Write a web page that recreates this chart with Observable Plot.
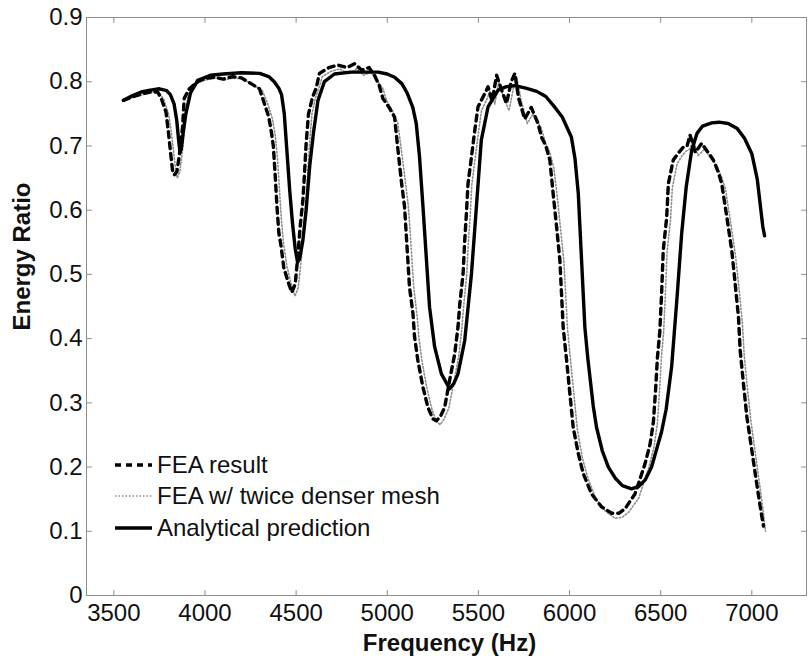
<!DOCTYPE html>
<html><head><meta charset="utf-8">
<script src="https://cdn.jsdelivr.net/npm/d3@7"></script>
<script src="https://cdn.jsdelivr.net/npm/@observablehq/plot@0.6"></script>
<style>
body{margin:0;background:#fff;}
#wrap{position:relative;width:812px;height:663px;font-family:"Liberation Sans",Arial,sans-serif;}
#legend{position:absolute;left:113px;top:449px;}
.row{display:flex;align-items:center;height:31.5px;font-size:24px;color:#111;white-space:nowrap;}
.row svg{width:42px;height:10px;margin-right:2px;flex:none;}
</style></head><body><div id="wrap"><div id="legend"></div></div>
<script>
// ---- tick values ----
const xTicks = [3500, 4000, 4500, 5000, 5500, 6000, 6500, 7000];
const yTicks = [0, 0.1, 0.2, 0.3, 0.4, 0.5, 0.6, 0.7, 0.8, 0.9];

// ---- series names ----
const seriesNames = ["FEA result", "FEA w/ twice denser mesh", "Analytical prediction"];

// ---- Analytical prediction ----
const analyticalHz = [3553,3600,3650,3700,3750,3790,3810,3830,3845,3855,3863,3870,3880,3895,3920,3960,4030,4100,4200,4300,4350,4380,4405,4420,4435,4450,4465,4480,4495,4508,4520,4537,4555,4575,4595,4620,4655,4710,4800,4900,4950,5000,5040,5080,5110,5140,5159,5177,5196,5214,5232,5260,5297,5342,5365,5388,5425,5462,5489,5516,5553,5608,5650,5700,5760,5820,5870,5920,5960,6010,6030,6048,6066,6084,6100,6112,6130,6148,6180,6213,6250,6290,6340,6380,6415,6450,6480,6505,6530,6560,6590,6615,6640,6670,6700,6730,6780,6820,6870,6920,6960,7000,7030,7060,7070];
const analyticalRatio = [0.771,0.778,0.784,0.787,0.789,0.786,0.78,0.766,0.74,0.71,0.69,0.695,0.72,0.75,0.782,0.802,0.81,0.812,0.814,0.813,0.808,0.80,0.79,0.78,0.75,0.69,0.63,0.58,0.54,0.519,0.525,0.553,0.60,0.67,0.72,0.771,0.80,0.812,0.815,0.815,0.815,0.812,0.807,0.797,0.782,0.76,0.735,0.683,0.605,0.527,0.449,0.387,0.345,0.322,0.33,0.345,0.397,0.501,0.605,0.709,0.761,0.787,0.792,0.794,0.79,0.785,0.777,0.76,0.745,0.714,0.68,0.626,0.522,0.418,0.37,0.34,0.295,0.262,0.225,0.20,0.183,0.171,0.166,0.17,0.18,0.20,0.23,0.255,0.29,0.356,0.465,0.563,0.636,0.693,0.72,0.731,0.736,0.737,0.735,0.727,0.712,0.688,0.648,0.575,0.56];

// ---- FEA result ----
const feaHz = [3553,3600,3650,3700,3740,3760,3786,3800,3813,3822,3832,3846,3859,3877,3886,3914,3960,4000,4050,4100,4150,4200,4253,4299,4326,4350,4365,4375,4385,4395,4405,4418,4432,4454,4476,4495,4509,4522,4537,4546,4555,4568,4590,4610,4628,4680,4729,4780,4820,4860,4900,4930,4955,4976,5010,5040,5059,5077,5095,5104,5113,5122,5141,5150,5168,5196,5223,5250,5269,5290,5315,5342,5370,5388,5398,5416,5425,5434,5443,5462,5480,5498,5525,5553,5575,5600,5630,5654,5680,5700,5720,5754,5790,5827,5846,5870,5892,5910,5929,5947,5956,5965,5984,6002,6020,6048,6075,6121,6176,6231,6270,6304,6359,6414,6442,6460,6472,6482,6495,6505,6514,6533,6542,6569,6600,6624,6645,6661,6690,6725,6760,6789,6815,6835,6863,6890,6909,6927,6936,6954,6973,7000,7027,7045,7064];
const feaRatio = [0.771,0.776,0.781,0.784,0.784,0.774,0.753,0.72,0.685,0.662,0.655,0.66,0.685,0.729,0.774,0.789,0.80,0.805,0.807,0.804,0.808,0.806,0.797,0.789,0.766,0.745,0.72,0.70,0.655,0.605,0.565,0.543,0.511,0.49,0.472,0.485,0.527,0.574,0.615,0.657,0.704,0.75,0.776,0.79,0.813,0.822,0.826,0.822,0.828,0.818,0.822,0.81,0.795,0.774,0.76,0.745,0.693,0.646,0.605,0.563,0.522,0.48,0.439,0.402,0.366,0.324,0.293,0.275,0.272,0.278,0.293,0.335,0.376,0.418,0.454,0.501,0.553,0.594,0.641,0.683,0.724,0.761,0.776,0.792,0.77,0.81,0.785,0.766,0.80,0.813,0.775,0.742,0.76,0.735,0.714,0.70,0.678,0.626,0.574,0.522,0.47,0.418,0.366,0.314,0.262,0.221,0.19,0.158,0.138,0.128,0.128,0.135,0.158,0.205,0.236,0.27,0.32,0.37,0.41,0.47,0.537,0.589,0.641,0.678,0.69,0.698,0.70,0.717,0.69,0.704,0.69,0.678,0.66,0.641,0.589,0.537,0.485,0.433,0.382,0.33,0.278,0.226,0.174,0.14,0.108];

// ---- FEA w/ twice denser mesh ----
const denseHz = [3553,3600,3650,3700,3748,3775,3800,3816,3828,3838,3848,3862,3875,3892,3905,3930,3970,4010,4060,4110,4160,4210,4265,4315,4345,4370,4386,4398,4408,4418,4430,4448,4470,4494,4512,4527,4540,4555,4564,4574,4587,4606,4625,4644,4690,4740,4790,4830,4870,4910,4948,4975,4998,5028,5058,5079,5099,5116,5126,5136,5146,5164,5174,5192,5218,5245,5268,5290,5312,5338,5365,5392,5409,5419,5436,5445,5455,5464,5482,5500,5517,5542,5565,5590,5612,5640,5668,5692,5712,5735,5768,5800,5845,5868,5892,5914,5933,5951,5969,5979,5989,6007,6025,6043,6070,6098,6142,6195,6250,6290,6325,6380,6436,6464,6482,6494,6504,6516,6526,6535,6554,6564,6590,6618,6640,6660,6678,6705,6740,6778,6810,6836,6856,6884,6911,6930,6948,6958,6976,6995,7019,7044,7060,7075];
const denseRatio = [0.771,0.775,0.779,0.783,0.784,0.772,0.75,0.72,0.69,0.665,0.65,0.66,0.69,0.735,0.775,0.79,0.80,0.803,0.806,0.803,0.806,0.804,0.795,0.786,0.765,0.742,0.715,0.68,0.635,0.59,0.55,0.515,0.488,0.466,0.48,0.52,0.57,0.615,0.66,0.705,0.75,0.775,0.79,0.808,0.816,0.82,0.812,0.82,0.81,0.815,0.80,0.79,0.77,0.755,0.735,0.69,0.645,0.605,0.565,0.52,0.478,0.435,0.40,0.362,0.322,0.29,0.272,0.266,0.275,0.292,0.332,0.372,0.415,0.45,0.50,0.55,0.592,0.64,0.68,0.72,0.755,0.77,0.785,0.765,0.80,0.775,0.755,0.79,0.805,0.77,0.735,0.75,0.728,0.705,0.69,0.665,0.62,0.57,0.52,0.468,0.415,0.362,0.31,0.258,0.215,0.185,0.152,0.132,0.12,0.122,0.13,0.152,0.20,0.232,0.268,0.32,0.37,0.41,0.47,0.535,0.585,0.635,0.672,0.685,0.692,0.695,0.71,0.685,0.695,0.68,0.668,0.65,0.632,0.58,0.528,0.478,0.425,0.375,0.322,0.272,0.222,0.17,0.137,0.10];

// ---- build tables ----
const toRows = (xs, ys) => xs.map((x, i) => ({x, y: ys[i]}));
const analytical = toRows(analyticalHz, analyticalRatio);
const fea = toRows(feaHz, feaRatio);
const dense = toRows(denseHz, denseRatio);

const styles = [
  {stroke: "#000", strokeWidth: 3.4, dash: "6,5"},
  {stroke: "#8f8f8f", strokeWidth: 1.6, dash: "1.5,2"},
  {stroke: "#000", strokeWidth: 3.4, dash: null}
];

const font = '"Liberation Sans", Arial, sans-serif';
const tickColor = "#8c8c8c";
const tickShape = {draw(ctx, l) { ctx.moveTo(0, 0); ctx.lineTo(0, -l); }};
const tickOpts = {length: 5, anchor: "start", shape: tickShape, stroke: tickColor, strokeWidth: 1};

const chart = Plot.plot({
  width: 812, height: 663,
  marginTop: 17, marginBottom: 68, marginLeft: 86, marginRight: 6,
  x: {domain: [3350, 7300]},
  y: {domain: [0, 0.9]},
  style: {fontFamily: font, fontSize: "24px", color: "#111", background: "#fff", overflow: "visible"},
  marks: [
    Plot.frame({stroke: tickColor, strokeWidth: 1}),
    Plot.vector(xTicks, {x: d => d, frameAnchor: "bottom", rotate: 0, ...tickOpts}),
    Plot.vector(xTicks, {x: d => d, frameAnchor: "top", rotate: 180, ...tickOpts}),
    Plot.vector(yTicks, {y: d => d, frameAnchor: "left", rotate: 90, ...tickOpts}),
    Plot.vector(yTicks, {y: d => d, frameAnchor: "right", rotate: -90, ...tickOpts}),
    Plot.axisX({ticks: xTicks, tickSize: 0, tickPadding: 8, label: null, tickFormat: d => String(d), fill: "#111"}),
    Plot.axisY({ticks: yTicks, tickSize: 0, tickPadding: 4, label: null, tickFormat: d => d === 0 ? "0" : d.toFixed(1), fill: "#111"}),
    Plot.line(dense, {x: "x", y: "y", stroke: styles[1].stroke, strokeWidth: styles[1].strokeWidth, strokeDasharray: styles[1].dash}),
    Plot.line(fea, {x: "x", y: "y", stroke: styles[0].stroke, strokeWidth: styles[0].strokeWidth, strokeDasharray: styles[0].dash}),
    Plot.line(analytical, {x: "x", y: "y", stroke: styles[2].stroke, strokeWidth: styles[2].strokeWidth}),
    Plot.text(["Frequency (Hz)"], {text: d => d, frameAnchor: "bottom", textAnchor: "middle", lineAnchor: "middle", dx: 3, dy: 48, fontWeight: "bold", fontSize: 24, fill: "#111"}),
    Plot.text(["Energy Ratio"], {text: d => d, frameAnchor: "left", textAnchor: "middle", lineAnchor: "middle", dx: -64, dy: -50, rotate: -90, fontWeight: "bold", fontSize: 24, fill: "#111"})
  ]
});
const wrap = document.getElementById("wrap");
wrap.insertBefore(chart, wrap.firstChild);

// ---- legend ----
const legend = document.getElementById("legend");
seriesNames.forEach((name, i) => {
  const s = styles[i];
  const row = document.createElement("div");
  row.className = "row";
  row.innerHTML = `<svg viewBox="0 0 42 10"><line x1="2" x2="39" y1="5" y2="5" stroke="${s.stroke}" stroke-width="${s.strokeWidth}" ${s.dash ? `stroke-dasharray="${s.dash}"` : ""}/></svg><span>${name}</span>`;
  legend.appendChild(row);
});
</script></body></html>
